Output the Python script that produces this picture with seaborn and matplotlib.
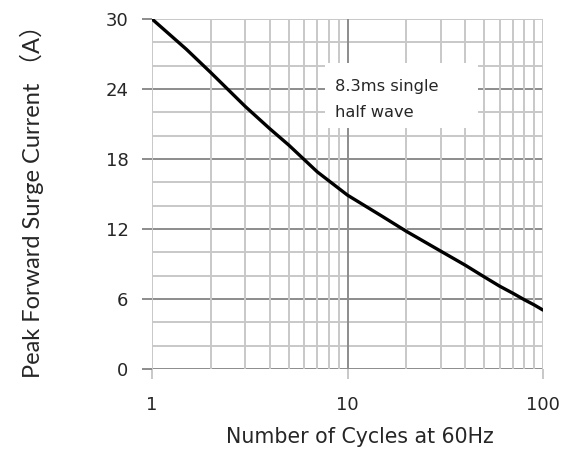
import matplotlib
matplotlib.use("Agg")
import matplotlib.pyplot as plt
from matplotlib.patches import Rectangle
from matplotlib.ticker import FixedLocator, NullLocator, NullFormatter
import seaborn as sns
import pandas as pd

# Surge current derating curve
cycles = [1, 1.5, 2, 3, 4, 5, 7, 10, 15, 20, 30, 40, 50, 60, 70, 80, 90, 100]
peak_current = [30.0, 27.4, 25.4, 22.5, 20.6, 19.2, 16.9, 14.9, 13.1, 11.8,
                10.1, 8.9, 7.9, 7.1, 6.5, 5.95, 5.5, 5.05]

y_major = [0, 6, 12, 18, 24, 30]
y_minor = [2, 4, 8, 10, 14, 16, 20, 22, 26, 28]
x_major = [1, 10, 100]
x_minor = [2, 3, 4, 5, 6, 7, 8, 9, 20, 30, 40, 50, 60, 70, 80, 90]
x_labels = ["1", "10", "100"]

sns.set_theme(style="white")
plt.rcParams["font.family"] = ["DejaVu Sans"]

df = pd.DataFrame({"cycles": cycles, "current": peak_current})

fig = plt.figure(figsize=(5.64, 4.51), dpi=100)
ax = fig.add_axes([0.2695, 0.1818, 0.6933, 0.7761])
ax.set_xscale("log")
ax.set_xlim(1, 100)
ax.set_ylim(0, 30)

light = "#c8c8c8"
dark = "#8c8c8c"
for y in y_minor + [30]:
    ax.axhline(y, color=light, lw=1.4, zorder=1)
for y in [0, 6, 12, 18, 24]:
    ax.axhline(y, color=dark, lw=1.4, zorder=1)
for x in x_minor + [1, 100]:
    ax.axvline(x, color=light, lw=1.4, zorder=1)
ax.axvline(10, color=dark, lw=1.4, zorder=1)

sns.lineplot(data=df, x="cycles", y="current", ax=ax, color="black",
             lw=2.4, zorder=4)

# note box
ax.add_patch(Rectangle((0.4425, 0.689), 0.3915, 0.185, transform=ax.transAxes,
                       fc="white", ec="none", zorder=3))
txt_kw = dict(transform=ax.transAxes, fontsize=11.7, color="#262626",
              ha="left", va="baseline", zorder=5)
ax.text(0.468, 0.794, "8.3ms single", **txt_kw)
ax.text(0.468, 0.720, "half wave", **txt_kw)

for s in ax.spines.values():
    s.set_visible(False)

ax.yaxis.set_major_locator(FixedLocator(y_major))
ax.yaxis.set_minor_locator(NullLocator())
ax.xaxis.set_major_locator(FixedLocator(x_major))
ax.xaxis.set_major_formatter(plt.FixedFormatter(x_labels))
ax.xaxis.set_minor_locator(NullLocator())
ax.xaxis.set_minor_formatter(NullFormatter())
ax.tick_params(axis="y", left=True, length=7, width=1.4, color=dark,
               pad=10, labelsize=13, labelcolor="#262626")
ax.tick_params(axis="x", bottom=True, length=7, width=1.4, color=light,
               pad=12.5, labelsize=13, labelcolor="#262626")

ax.set_xlabel("Number of Cycles at 60Hz", fontsize=14.8, color="#262626")
ax.xaxis.set_label_coords(0.532, -0.165)
ax.set_ylabel("Peak Forward Surge Current （A）", fontsize=17, color="#262626",
              family=["Lato", "Noto Sans CJK SC", "DejaVu Sans"])
ax.yaxis.set_label_coords(-0.276, 0.495)

fig.savefig("out.png", dpi=100)
